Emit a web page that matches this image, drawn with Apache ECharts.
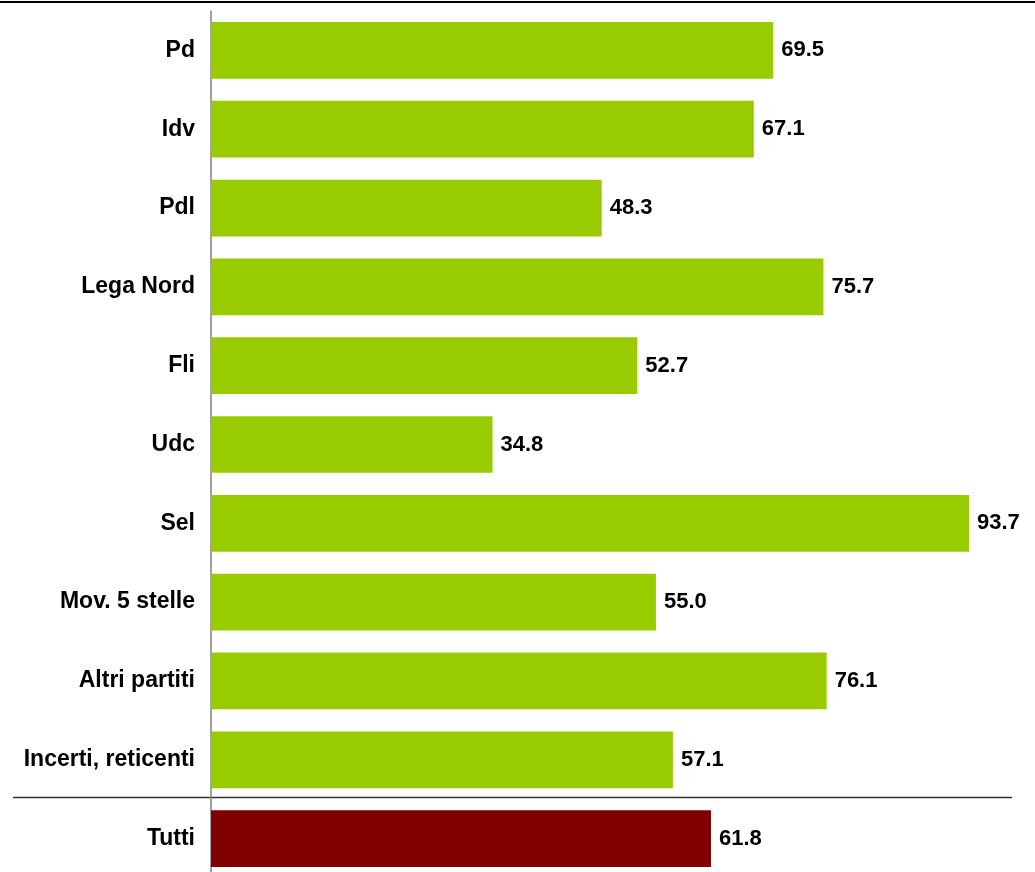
<!DOCTYPE html>
<html>
<head>
<meta charset="utf-8">
<script src="https://cdn.jsdelivr.net/npm/echarts@6/dist/echarts.min.js"></script>
<style>
html,body{margin:0;padding:0;background:#fff;}
#chart{width:1035px;height:872px;}
</style>
</head>
<body>
<div id="chart"></div>
<script>
const categories = ["Pd", "Idv", "Pdl", "Lega Nord", "Fli", "Udc", "Sel", "Mov. 5 stelle", "Altri partiti", "Incerti, reticenti", "Tutti"];
const values = [69.5, 67.1, 48.3, 75.7, 52.7, 34.8, 93.7, 55.0, 76.1, 57.1, 61.8];
const totalCategory = "Tutti";

const GREEN = "#99CC00";
const DARKRED = "#800000";
const FONT = "'Liberation Sans', Arial, Helvetica, sans-serif";

const chart = echarts.init(document.getElementById('chart'), null, {renderer: 'canvas'});
const option = {
  animation: false,
  backgroundColor: '#ffffff',
  grid: {left: 211, width: 809, top: 11, height: 867, containLabel: false, outerBoundsMode: 'none'},
  xAxis: {
    type: 'value', min: 0, max: 100,
    show: false
  },
  yAxis: {
    type: 'category',
    data: categories,
    inverse: true,
    axisLine: {show: true, lineStyle: {color: '#808080', width: 1.5}},
    axisTick: {show: false},
    splitLine: {show: false},
    axisLabel: {
      color: '#000', fontFamily: FONT, fontWeight: 'bold', fontSize: 23, margin: 16
    }
  },
  series: [{
    type: 'bar',
    data: values.map((v, i) => ({
      value: v,
      itemStyle: {color: categories[i] === totalCategory ? DARKRED : GREEN}
    })),
    barCategoryGap: '28%',
    label: {
      show: true, position: 'right', distance: 8,
      color: '#000', fontFamily: FONT, fontWeight: 'bold', fontSize: 22,
      formatter: p => Number(p.value).toFixed(1)
    }
  }],
  graphic: [
    {type: 'line', shape: {x1: 0, y1: 2, x2: 1035, y2: 2}, style: {stroke: '#000', lineWidth: 2}},
    {type: 'line', shape: {x1: 13, y1: 797.5, x2: 1012, y2: 797.5}, style: {stroke: '#333', lineWidth: 1.5}}
  ]
};
chart.setOption(option);
</script>
</body>
</html>
